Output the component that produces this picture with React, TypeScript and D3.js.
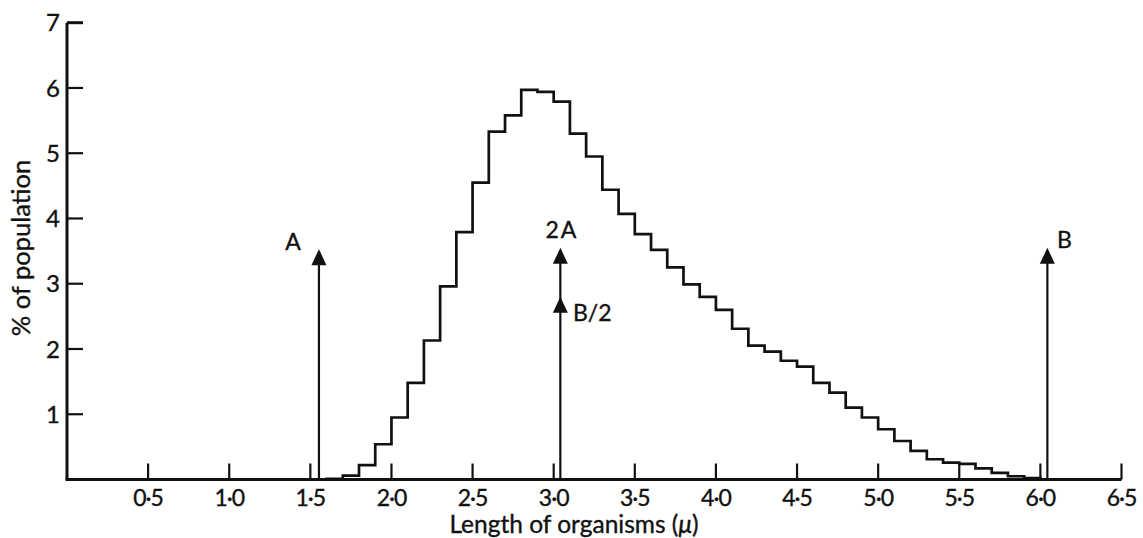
import React from "react";
import * as d3 from "d3";

const binStarts = [1.6,1.7,1.8,1.9,2.0,2.1,2.2,2.3,2.4,2.5,2.6,2.7,2.8,2.9,3.0,3.1,3.2,3.3,3.4,3.5,3.6,3.7,3.8,3.9,4.0,4.1,4.2,4.3,4.4,4.5,4.6,4.7,4.8,4.9,5.0,5.1,5.2,5.3,5.4,5.5,5.6,5.7,5.8,5.9];
const binValues = [0.01,0.06,0.22,0.54,0.95,1.48,2.13,2.96,3.79,4.55,5.33,5.58,5.97,5.94,5.79,5.30,4.95,4.44,4.07,3.76,3.52,3.25,2.99,2.80,2.60,2.31,2.05,1.96,1.82,1.73,1.48,1.33,1.10,0.95,0.77,0.59,0.44,0.31,0.26,0.24,0.17,0.10,0.05,0.02];
const binWidth = 0.1;

const xTicks = [0.5,1.0,1.5,2.0,2.5,3.0,3.5,4.0,4.5,5.0,5.5,6.0,6.5];
const xTickLabels = ["0·5","1·0","1·5","2·0","2·5","3·0","3·5","4·0","4·5","5·0","5·5","6·0","6·5"];
const yTicks = [1,2,3,4,5,6,7];
const yTickLabels = ["1","2","3","4","5","6","7"];

const arrowLabels = ["A","2A","B"];
const arrowX = [1.553,3.041,6.043];
const arrowTop = [3.53,3.55,3.55];
const halfArrowLabel = "B/2";
const halfArrowX = 3.041;
const halfArrowTop = 2.80;

const xTitleMain = "Length of organisms (";
const xTitleUnit = "μ";
const xTitleEnd = ")";
const yTitle = "% of population";

const FONT = "Lato, 'Open Sans', sans-serif";

export default function App() {
  const W = 1143, H = 538;
  const x = d3.scaleLinear().domain([0, 6.5]).range([67, 1121.5]);
  const y = d3.scaleLinear().domain([0, 7]).range([479.5, 22.7]);

  const pts: [number, number][] = [[binStarts[0], 0]];
  binStarts.forEach((s, i) => pts.push([s, binValues[i]]));
  const lastEnd = binStarts[binStarts.length - 1] + binWidth;
  pts.push([lastEnd, binValues[binValues.length - 1]]);
  pts.push([lastEnd, 0]);
  const line = d3.line<[number, number]>()
    .x(d => x(d[0]))
    .y(d => y(d[1]))
    .curve(d3.curveStepAfter);

  const head = (cx: number, tipY: number) => {
    const w = 7.5, h = 16;
    return `M${cx},${tipY} L${cx - w},${tipY + h} L${cx + w},${tipY + h} Z`;
  };

  const txt = { fontFamily: FONT, fill: "#111", stroke: "#111", strokeWidth: 0.35 } as const;

  return (
    <svg width={W} height={H} style={{ position: "absolute", left: 0, top: 0, background: "#fff" }}>
      <rect width={W} height={H} fill="#fff" />
      {/* axes */}
      <line x1={x(0)} x2={x(0)} y1={y(7)} y2={y(0)} stroke="#111" strokeWidth={3} />
      <line x1={x(0) - 1.5} x2={x(6.5)} y1={y(0)} y2={y(0)} stroke="#111" strokeWidth={3} />
      {yTicks.map((t, i) => (
        <g key={"yt" + i}>
          <line x1={x(0)} x2={x(0) + 16} y1={y(t)} y2={y(t)} stroke="#111" strokeWidth={t === 7 ? 3 : 2.2} />
          <text x={60} y={y(t)} dy="0.36em" textAnchor="end" fontSize={24} {...txt}>{yTickLabels[i]}</text>
        </g>
      ))}
      {xTicks.map((t, i) => (
        <g key={"xt" + i}>
          <line x1={x(t)} x2={x(t)} y1={y(0)} y2={y(0) - 16} stroke="#111" strokeWidth={2.2} />
          <text x={x(t)} y={506} textAnchor="middle" fontSize={23} letterSpacing={-1} {...txt}>{xTickLabels[i]}</text>
        </g>
      ))}
      {/* histogram */}
      <path d={line(pts) || ""} fill="none" stroke="#111" strokeWidth={2.7} strokeLinejoin="miter" />
      {/* arrows */}
      {arrowX.map((a, i) => (
        <g key={"ar" + i}>
          <line x1={x(a)} x2={x(a)} y1={y(0)} y2={y(arrowTop[i]) + 8} stroke="#111" strokeWidth={2.2} />
          <path d={head(x(a), y(arrowTop[i]))} fill="#111" />
        </g>
      ))}
      <path d={head(x(halfArrowX), y(halfArrowTop))} fill="#111" />
      <text x={293} y={250} textAnchor="middle" fontSize={23} {...txt}>{arrowLabels[0]}</text>
      <text x={562} y={238} textAnchor="middle" fontSize={23} letterSpacing={2} {...txt}>{arrowLabels[1]}</text>
      <text x={1057} y={248} textAnchor="start" fontSize={23} {...txt}>{arrowLabels[2]}</text>
      <text x={573} y={321} textAnchor="start" fontSize={23} {...txt}>{halfArrowLabel}</text>
      {/* titles */}
      <text x={574} y={533} textAnchor="middle" fontSize={24.5} {...txt}>
        {xTitleMain}
        <tspan fontStyle="italic">{xTitleUnit}</tspan>
        {xTitleEnd}
      </text>
      <text transform={`translate(30,248) rotate(-90)`} textAnchor="middle" fontSize={25.5} {...txt}>{yTitle}</text>
    </svg>
  );
}
